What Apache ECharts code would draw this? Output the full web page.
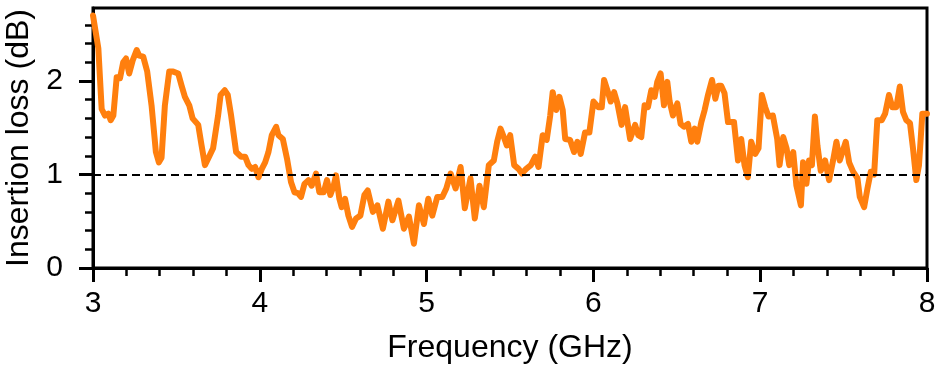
<!DOCTYPE html>
<html>
<head>
<meta charset="utf-8">
<script src="https://cdn.jsdelivr.net/npm/echarts@6/dist/echarts.min.js"></script>
<style>
  html, body { margin: 0; padding: 0; background: #fff; }
  #chart { width: 936px; height: 366px; }
</style>
</head>
<body>
<div id="chart"></div>
<script>
// frequency (GHz) and insertion loss (dB)
const freq = [
  3.000, 3.032, 3.052, 3.072, 3.092, 3.106, 3.122, 3.142, 3.162, 3.181,
  3.198, 3.217, 3.238, 3.262, 3.277, 3.301, 3.325, 3.351, 3.377, 3.395,
  3.411, 3.431, 3.457, 3.481, 3.511, 3.531, 3.551, 3.577, 3.597, 3.631,
  3.651, 3.671, 3.696, 3.720, 3.750, 3.765, 3.790, 3.808, 3.828, 3.858,
  3.888, 3.912, 3.932, 3.952, 3.972, 3.992, 4.012, 4.032, 4.052, 4.072,
  4.098, 4.112, 4.138, 4.163, 4.187, 4.208, 4.228, 4.247, 4.268, 4.292,
  4.311, 4.337, 4.357, 4.383, 4.403, 4.423, 4.443, 4.457, 4.477, 4.491,
  4.511, 4.531, 4.553, 4.577, 4.603, 4.627, 4.647, 4.678, 4.705, 4.738,
  4.771, 4.795, 4.831, 4.864, 4.894, 4.924, 4.954, 4.984, 5.010, 5.034,
  5.064, 5.094, 5.118, 5.144, 5.174, 5.204, 5.229, 5.263, 5.289, 5.317,
  5.343, 5.373, 5.403, 5.423, 5.443, 5.463, 5.481, 5.501, 5.525, 5.551,
  5.571, 5.597, 5.625, 5.651, 5.671, 5.696, 5.720, 5.741, 5.756, 5.777,
  5.796, 5.816, 5.831, 5.860, 5.884, 5.904, 5.924, 5.950, 5.976, 6.000,
  6.030, 6.050, 6.064, 6.084, 6.104, 6.124, 6.144, 6.169, 6.190, 6.220,
  6.250, 6.269, 6.287, 6.307, 6.327, 6.347, 6.367, 6.383, 6.403, 6.423,
  6.443, 6.457, 6.477, 6.503, 6.523, 6.543, 6.567, 6.587, 6.607, 6.623,
  6.647, 6.667, 6.687, 6.711, 6.731, 6.750, 6.766, 6.786, 6.807, 6.843,
  6.867, 6.886, 6.906, 6.926, 6.946, 6.970, 6.990, 7.010, 7.030, 7.050,
  7.076, 7.102, 7.116, 7.138, 7.158, 7.174, 7.198, 7.217, 7.244, 7.257,
  7.277, 7.293, 7.310, 7.328, 7.343, 7.363, 7.389, 7.413, 7.437, 7.457,
  7.477, 7.513, 7.533, 7.557, 7.583, 7.597, 7.623, 7.643, 7.663, 7.683,
  7.702, 7.729, 7.749, 7.772, 7.792, 7.816, 7.837, 7.856, 7.876, 7.898,
  7.916, 7.936, 7.952, 7.972, 8.000
];
const loss = [
  2.70, 2.35, 1.70, 1.63, 1.65, 1.58, 1.63, 2.04, 2.03, 2.20,
  2.24, 2.08, 2.22, 2.33, 2.27, 2.26, 2.10, 1.74, 1.24, 1.13,
  1.18, 1.74, 2.10, 2.10, 2.08, 1.95, 1.83, 1.74, 1.60, 1.53,
  1.31, 1.10, 1.19, 1.28, 1.63, 1.85, 1.90, 1.85, 1.63, 1.24,
  1.19, 1.19, 1.10, 1.06, 1.08, 0.97, 1.06, 1.13, 1.24, 1.42,
  1.51, 1.42, 1.38, 1.17, 0.92, 0.81, 0.80, 0.76, 0.90, 0.94,
  0.88, 1.01, 0.81, 0.81, 0.94, 0.78, 0.88, 0.99, 0.74, 0.65,
  0.74, 0.56, 0.44, 0.53, 0.56, 0.78, 0.83, 0.60, 0.67, 0.42,
  0.71, 0.51, 0.72, 0.42, 0.55, 0.26, 0.67, 0.47, 0.74, 0.56,
  0.76, 0.76, 0.85, 1.01, 0.85, 1.08, 0.64, 0.96, 0.53, 0.88,
  0.65, 1.10, 1.15, 1.35, 1.49, 1.40, 1.31, 1.42, 1.10, 1.06,
  1.01, 1.06, 1.10, 1.19, 1.08, 1.42, 1.37, 1.63, 1.88, 1.69,
  1.83, 1.69, 1.38, 1.37, 1.24, 1.35, 1.22, 1.45, 1.45, 1.78,
  1.72, 1.72, 2.01, 1.90, 1.78, 1.88, 1.76, 1.53, 1.72, 1.38,
  1.53, 1.42, 1.40, 1.74, 1.72, 1.90, 1.83, 1.99, 2.08, 1.74,
  1.99, 1.78, 1.63, 1.76, 1.54, 1.51, 1.54, 1.35, 1.49, 1.35,
  1.56, 1.69, 1.85, 2.01, 1.81, 1.95, 1.95, 1.87, 1.56, 1.56,
  1.15, 1.38, 1.10, 0.97, 1.35, 1.22, 1.28, 1.85, 1.72, 1.62,
  1.63, 1.38, 1.10, 1.40, 1.28, 1.10, 1.24, 0.88, 0.67, 1.13,
  0.90, 1.15, 1.10, 1.62, 1.31, 1.04, 1.15, 0.94, 1.15, 1.35,
  1.15, 1.35, 1.13, 1.03, 0.96, 0.76, 0.65, 0.85, 1.03, 1.00,
  1.58, 1.58, 1.65, 1.85, 1.72, 1.72, 1.94, 1.67, 1.58, 1.55,
  1.28, 0.94, 1.10, 1.65, 1.65
];
const refLevel = 1;
const yMajor = [0, 1, 2];
const yMinor = [0.2, 0.4, 0.6, 0.8, 1.2, 1.4, 1.6, 1.8, 2.2, 2.4, 2.6];

const font = '"Liberation Sans", Arial, sans-serif';
const chart = echarts.init(document.getElementById('chart'));

chart.setOption({
  animation: false,
  grid: {
    left: 93, right: 9, top: 8, bottom: 98,
    outerBoundsMode: 'none',
    show: true, borderColor: '#000', borderWidth: 3, backgroundColor: 'transparent',
  },
  xAxis: {
    type: 'value',
    min: 3,
    max: 8,
    interval: 1,
    name: 'Frequency (GHz)',
    nameLocation: 'middle',
    nameGap: 64,
    nameTextStyle: { fontFamily: font, fontSize: 32, color: '#000' },
    axisLine: { lineStyle: { color: '#000', width: 3 } },
    axisTick: { inside: false, length: 14, lineStyle: { color: '#000', width: 3 } },
    minorTick: { show: true, splitNumber: 5, length: 8, lineStyle: { color: '#000', width: 2.5 } },
    axisLabel: { fontFamily: font, fontSize: 30, color: '#000', margin: 21 },
    splitLine: { show: false },
  },
  yAxis: [
    {
      type: 'value',
      min: 0,
      max: 2.78,
      name: 'Insertion loss (dB)',
      nameLocation: 'middle',
      nameGap: 48,
      nameTextStyle: { fontFamily: font, fontSize: 32, color: '#000' },
      axisLine: { show: true, lineStyle: { color: '#000', width: 3 } },
      axisTick: { show: true, length: 14, customValues: yMajor, lineStyle: { color: '#000', width: 3 } },
      axisLabel: { fontFamily: font, fontSize: 30, color: '#000', margin: 30, customValues: yMajor },
      splitLine: { show: false },
    },
    {
      type: 'value',
      min: 0,
      max: 2.78,
      position: 'left',
      axisLine: { show: false },
      axisTick: { show: true, length: 8, customValues: yMinor, lineStyle: { color: '#000', width: 2.5 } },
      axisLabel: { show: false },
      splitLine: { show: false },
    },
  ],
  series: [
    {
      type: 'line',
      data: freq.map((f, i) => [f, loss[i]]),
      showSymbol: false,
      smooth: false,
      lineStyle: { color: '#ff7f0e', width: 6, join: 'round', cap: 'round' },
      markLine: {
        silent: true,
        symbol: 'none',
        label: { show: false },
        lineStyle: { type: [8, 5], color: '#000', width: 2 },
        data: [{ yAxis: refLevel }],
      },
      z: 2,
    },
  ],
});
</script>
</body>
</html>
